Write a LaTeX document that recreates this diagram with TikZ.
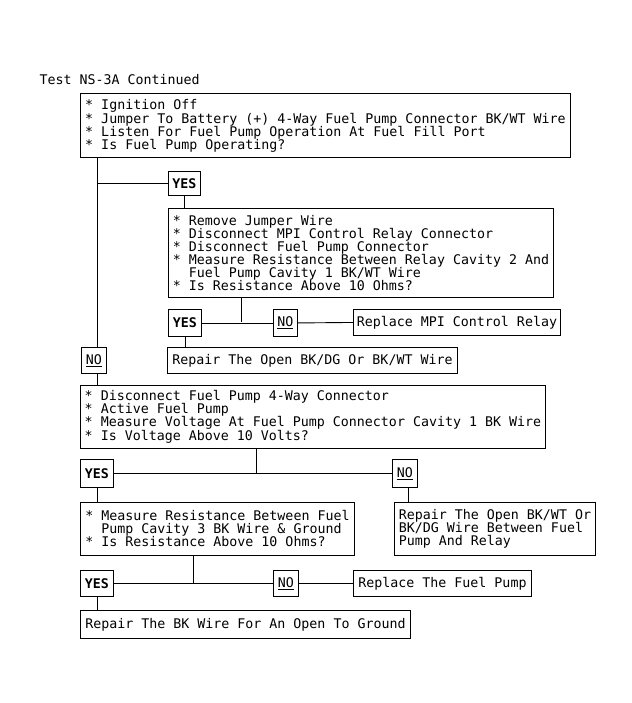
\documentclass[tikz,border=0pt]{standalone}
\usepackage{fontspec}
\setmonofont{DejaVu Sans Mono}
\usetikzlibrary{positioning}

\begin{document}
\begin{tikzpicture}[
    x=1pt, y=-1pt,
    font=\ttfamily\fontsize{13.3}{13}\selectfont,
    box/.style={
        rectangle,
        draw=black,
        line width=0.9pt,
        inner sep=0pt,
        anchor=north west,
        align=left
    },
    query/.style={box},
    result/.style={box, minimum height=26},
    yes/.style={box, font=\ttfamily\bfseries\fontsize{13.3}{13}\selectfont, minimum width=33, minimum height=26},
    no/.style={box, minimum width=25, minimum height=26},
    wire/.style={draw=black, line width=0.9pt}
]
\useasboundingbox (0,0) rectangle (631,703);

\node[anchor=west] (title) at (36,80) {Test NS-3A Continued};

\node[query, minimum width=490, minimum height=64] (q1) at (80,93)
    {* Ignition Off\\
     * Jumper To Battery (+) 4-Way Fuel Pump Connector BK/WT Wire\\
     * Listen For Fuel Pump Operation At Fuel Fill Port\\
     * Is Fuel Pump Operating?};
\node[yes, minimum width=32, minimum height=24] (yes1) at (168,171) {YES};
\node[query, minimum width=385, minimum height=89] (q2) at (168,208)
    {* Remove Jumper Wire\\
     * Disconnect MPI Control Relay Connector\\
     * Disconnect Fuel Pump Connector\\
     * Measure Resistance Between Relay Cavity 2 And\\
     \phantom{* }Fuel Pump Cavity 1 BK/WT Wire\\
     * Is Resistance Above 10 Ohms?};
\node[yes, minimum height=27] (yes2) at (168,309) {YES};
\node[no, minimum width=24, minimum height=27] (no2) at (273,309) {\underline{NO}};
\node[result, minimum width=207] (fix1) at (353,309) {Replace MPI Control Relay};
\node[no] (no1) at (81,347) {\underline{NO}};
\node[result, minimum width=290] (fix2) at (167,347) {Repair The Open BK/DG Or BK/WT Wire};

\node[query, minimum width=465, minimum height=63] (q3) at (80,385)
    {* Disconnect Fuel Pump 4-Way Connector\\
     * Active Fuel Pump\\
     * Measure Voltage At Fuel Pump Connector Cavity 1 BK Wire\\
     * Is Voltage Above 10 Volts?};
\node[yes, minimum height=28] (yes3) at (80,459) {YES};
\node[no, minimum height=28] (no3) at (392,459) {\underline{NO}};
\node[query, minimum width=274, minimum height=53] (q4) at (80,502)
    {* Measure Resistance Between Fuel\\
     \phantom{* }Pump Cavity 3 BK Wire \& Ground\\
     * Is Resistance Above 10 Ohms?};
\node[query, minimum width=201, minimum height=53] (q5) at (394,502)
    {Repair The Open BK/WT Or\\
     BK/DG Wire Between Fuel\\
     Pump And Relay};
\node[yes] (yes4) at (80,570) {YES};
\node[no] (no4) at (273,570) {\underline{NO}};
\node[result, minimum width=178] (fix4) at (353,570) {Replace The Fuel Pump};
\node[result, minimum width=330, minimum height=28] (fix5) at (80,610) {Repair The BK Wire For An Open To Ground};

\coordinate (trunk) at (97,0);
\coordinate (j2) at (241,322);
\coordinate (j3) at (256,473);
\coordinate (drop3) at (408,0);
\coordinate (j4) at (193,583);

\draw[wire] (q1.south -| trunk) -- (no1.north -| trunk);
\draw[wire] (yes1.west -| trunk) -- (yes1.west);
\draw[wire] (yes1.south) -- (yes1.south |- q2.north);
\draw[wire] (q2.south -| j2) -- (j2);
\draw[wire] (yes2.east) -- (no2.west);
\draw[wire] (no2.east) -- (fix1.west);
\draw[wire] (yes2.south) -- (yes2.south |- fix2.north);
\draw[wire] (no1.south -| trunk) -- (q3.north -| trunk);
\draw[wire] (q3.south -| j3) -- (j3);
\draw[wire] (yes3.east) -- (no3.west);
\draw[wire] (yes3.south) -- (yes3.south |- q4.north);
\draw[wire] (no3.south -| drop3) -- (q5.north -| drop3);
\draw[wire] (q4.south -| j4) -- (j4);
\draw[wire] (yes4.east) -- (no4.west);
\draw[wire] (no4.east) -- (fix4.west);
\draw[wire] (yes4.south) -- (yes4.south |- fix5.north);

\end{tikzpicture}
\end{document}
